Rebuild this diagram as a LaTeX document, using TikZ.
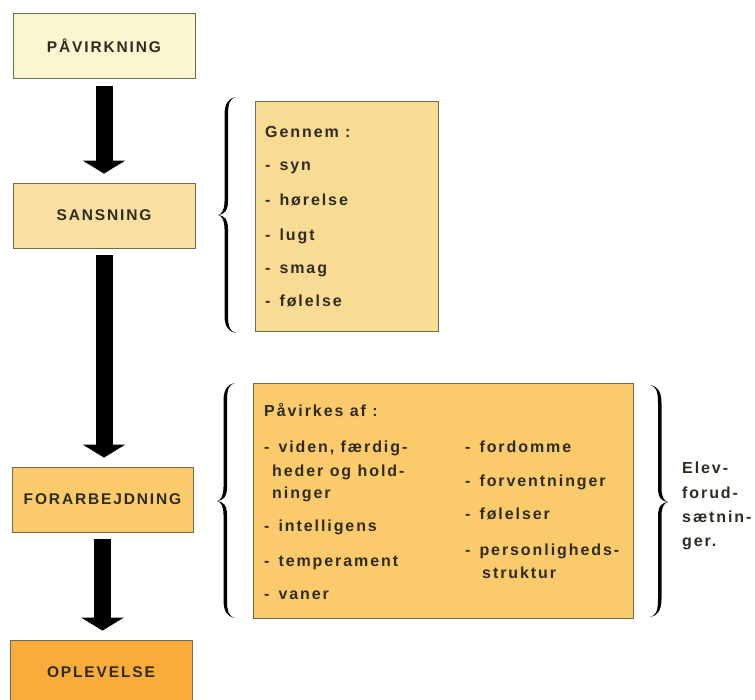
\documentclass[tikz,border=0pt]{standalone}
\usepackage{fontspec}
\setmainfont{Liberation Sans}[LetterSpace=12]
\usetikzlibrary{arrows.meta}
\definecolor{cA}{HTML}{FBF6CF}
\definecolor{cB}{HTML}{F9E0A0}
\definecolor{cL}{HTML}{F9DB93}
\definecolor{cC}{HTML}{FBCB6B}
\definecolor{cD}{HTML}{F8AC3C}
\definecolor{edge}{HTML}{6E6C50}
\definecolor{ink}{HTML}{2E2B20}
\newcommand{\dsh}{-\hspace{9pt}}
\newcommand{\bracefill}[3]{%
 \fill (18,#1) .. controls (11,#1+1) and (6.5,#1+6) .. (6.5,#1+18) -- (6.5,#2-14)
  .. controls (6.5,#2-5) and (4,#2-1) .. (0,#2)
  .. controls (4,#2+1) and (6.5,#2+5) .. (6.5,#2+14) -- (6.5,#3-18)
  .. controls (6.5,#3-6) and (11,#3-1) .. (18,#3)
  .. controls (12,#3-1.5) and (10,#3-6) .. (10,#3-18) -- (10,#2+14)
  .. controls (10,#2+4) and (6,#2+0.5) .. (0,#2)
  .. controls (6,#2-0.5) and (10,#2-4) .. (10,#2-14) -- (10,#1+18)
  .. controls (10,#1+6) and (12,#1+1.5) .. (18,#1) -- cycle;}
\tikzset{
  stage/.style={draw=edge, line width=0.8pt, minimum width=182pt, minimum height=65pt,
    inner sep=0pt, font=\fontsize{15.5}{17}\selectfont\bfseries, text=ink},
  listbox/.style={draw=edge, line width=0.8pt, inner sep=0pt},
  item/.style={anchor=base west, inner sep=0pt, font=\fontsize{16}{18}\selectfont\bfseries, text=ink},
  fat/.style={line width=17pt, -{Triangle[width=42pt,length=13pt]}, shorten <=7pt, shorten >=9pt}
}
\begin{document}
\begin{tikzpicture}[x=1pt,y=-1pt]
\useasboundingbox (0,0) rectangle (755,700);
\clip (0,0) rectangle (755,700);
% stages
\node[stage, fill=cA] (p) at (104,46) {PÅVIRKNING};
\node[stage, fill=cB] (s) at (104,215.5) {SANSNING};
\node[stage, fill=cC, minimum width=181pt] (f) at (102.5,499.5) {FORARBEJDNING};
\node[stage, fill=cD, minimum height=64pt] (o) at (101,672) {OPLEVELSE};
% arrows
\draw[fat] (p.south) -- (p.south |- s.north);
\draw[fat] (s.south) -- (s.south |- f.north);
\draw[fat] (f.south) -- (f.south |- o.north);
% list boxes
\node[listbox, fill=cL, minimum width=183pt, minimum height=230pt] (sl) at (346.5,216.5) {};
\node[listbox, fill=cC, minimum width=380pt, minimum height=235pt] (fl) at (443,500.5) {};
% braces
\begin{scope}[shift={(218,0)}] \bracefill{97}{215}{333} \end{scope}
\begin{scope}[shift={(217,0)}] \bracefill{383}{501}{618} \end{scope}
\begin{scope}[shift={(668,0)}, xscale=-1] \bracefill{385}{502}{617} \end{scope}
% sansning list
\node[item] (g0) at (265,138) {Gennem :};
\node[item] (g1) at (265,171) {\dsh syn};
\node[item] (g2) at (265,206) {\dsh hørelse};
\node[item] (g3) at (265,241) {\dsh lugt};
\node[item] (g4) at (265,274) {\dsh smag};
\node[item] (g5) at (265,307) {\dsh følelse};
% forarbejdning list
\node[item] (h0) at (264,417) {Påvirkes af :};
\node[item] (h1) at (264,453) {\dsh viden, færdig-};
\node[item] (h1b) at (272,476) {heder og hold-};
\node[item] (h1c) at (272,498) {ninger};
\node[item] (h2) at (264,531) {\dsh intelligens};
\node[item] (h3) at (264,566) {\dsh temperament};
\node[item] (h4) at (264,599) {\dsh vaner};
\node[item] (k1) at (465,452) {\dsh fordomme};
\node[item] (k2) at (465,486) {\dsh forventninger};
\node[item] (k3) at (465,519) {\dsh følelser};
\node[item] (k4) at (465,555) {\dsh personligheds-};
\node[item] (k4b) at (482,578) {struktur};
% side label
\node[item] (e1) at (682,473) {Elev-};
\node[item] (e2) at (682,498) {forud-};
\node[item] (e3) at (682,522) {sætnin-};
\node[item] (e4) at (682,546) {ger.};
\end{tikzpicture}
\end{document}
